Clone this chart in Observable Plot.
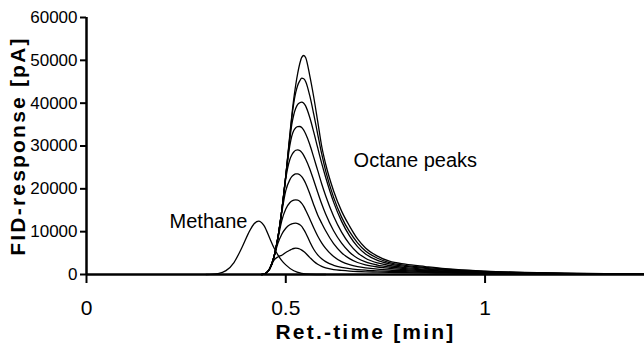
<!DOCTYPE html>
<html><head><meta charset="utf-8">
<script src="https://cdn.jsdelivr.net/npm/d3@7"></script>
<script src="https://cdn.jsdelivr.net/npm/@observablehq/plot@0.6"></script>
<style>body{margin:0;background:#fff} #chart svg{display:block}</style>
</head><body><div id="chart"></div>
<script>
// Shared retention-time grid (min) for the octane peaks
const timeGrid = [0.44,0.45,0.46,0.47,0.48,0.49,0.50,0.51,0.515,0.52,0.525,0.53,0.535,0.54,0.545,0.55,0.56,0.57,0.58,0.59,0.60,0.62,0.64,0.66,0.68,0.70,0.73,0.76,0.80,0.85,0.90,1.00,1.10,1.20,1.30,1.40];
// FID response (pA) of the nine octane peaks, smallest to largest
const octane1 = [0,300,1300,3300,4100,4500,5150,5650,5900,6070,6140,6090,5950,5700,5350,4950,4000,3100,2400,1900,1550,1150,950,800,700,630,560,500,440,370,300,200,120,70,35,15];
const octane2 = [0,300,1400,3900,7200,9400,10800,11600,11820,11940,11980,11900,11650,11250,10500,9700,7700,5900,4600,3700,3000,2150,1650,1350,1150,1000,850,740,640,520,420,280,170,100,50,20];
const octane3 = [0,300,1400,4000,8200,12600,15300,16750,17150,17350,17440,17380,17100,16600,15900,15000,13000,10900,9000,7400,6100,4200,3000,2300,1850,1550,1250,1050,870,700,560,360,220,130,60,25];
const octane4 = [0,300,1400,4000,8400,14500,19600,22100,22850,23250,23470,23510,23300,22850,22150,21250,18900,16300,13900,12000,10200,7200,5100,3700,2800,2250,1750,1450,1150,900,700,450,270,150,70,30];
const octane5 = [0,300,1400,4000,8500,14900,22400,26800,27900,28600,29000,29110,28950,28500,27800,26900,24700,22000,19200,16500,14100,10200,7300,5200,3800,2950,2200,1750,1350,1050,800,500,300,170,80,30];
const octane6 = [0,300,1400,4000,8500,15000,23000,30000,32300,33600,34250,34500,34550,34300,33700,32800,30400,27400,24300,21200,18400,13600,9900,7100,5100,3800,2700,2100,1600,1250,950,580,340,200,90,35];
const octane7 = [0,300,1400,4000,8500,15000,23000,31500,35000,37300,38800,39700,40100,40230,40000,39300,36700,33300,29600,26000,22700,16900,12400,9000,6500,4800,3300,2500,1900,1450,1100,650,380,240,120,50];
const octane8 = [0,300,1400,4000,8500,15000,23000,32000,36500,40000,42500,44200,45200,45830,45700,45000,41800,37500,32800,28200,24200,18000,13400,10000,7400,5500,3800,2800,2150,1650,1230,720,430,280,150,70];
const octane9 = [0,300,1400,4000,8500,15000,23000,32500,37000,41000,44300,47000,49200,50700,51130,50600,46500,41500,35800,30000,25800,19500,14800,11300,8300,6200,4300,3100,2400,1850,1350,780,480,320,180,90];
// Methane peak
const methaneTime = [0.30,0.33,0.35,0.37,0.39,0.41,0.42,0.432,0.445,0.46,0.47,0.48,0.49,0.50,0.52,0.54,0.56,0.60];
const methaneResponse = [0,220,900,2800,6300,10300,11800,12450,11450,8400,6300,4600,3250,2250,870,260,60,0];
// Axis ticks
const xTicks = [0, 0.5, 1];
const yTicks = [0, 10000, 20000, 30000, 40000, 50000, 60000];
// Annotations
const noteText = ["Methane", "Octane peaks"];
const noteTime = [0.306, 0.825];
const noteResponse = [12400, 26600];

const octaneSeries = [octane1, octane2, octane3, octane4, octane5, octane6, octane7, octane8, octane9];
const rows = [];
octaneSeries.forEach((s, i) => s.forEach((v, j) => rows.push({series: "Octane " + (i + 1), time: timeGrid[j], response: v})));
methaneTime.forEach((t, j) => rows.push({series: "Methane", time: t, response: methaneResponse[j]}));
const notes = noteText.map((t, i) => ({text: t, time: noteTime[i], response: noteResponse[i]}));

const chart = Plot.plot({
  width: 644, height: 347,
  marginLeft: 86, marginRight: 0, marginTop: 17, marginBottom: 73,
  x: {domain: [0, 1.4]},
  y: {domain: [0, 60000]},
  style: {fontFamily: "'Liberation Sans', Arial, sans-serif", color: "black", background: "white"},
  marks: [
    Plot.line(rows, {x: "time", y: "response", z: "series", curve: "monotone-x", stroke: "black", strokeWidth: 1.3}),
    Plot.axisY(yTicks, {tickSize: 6, tickPadding: 3, fontSize: 17, strokeWidth: 2, tickFormat: d3.format("d"), label: null}),
    Plot.axisX(xTicks, {tickSize: 9, tickPadding: 17, fontSize: 21, strokeWidth: 2, tickFormat: d => String(d), label: null}),
    Plot.ruleX([0], {y1: 0, y2: 60000, strokeWidth: 2.5}),
    Plot.ruleY([0], {strokeWidth: 2.5}),
    Plot.text(notes, {x: "time", y: "response", text: "text", fontSize: 20}),
    Plot.text(["FID-response [pA]"], {frameAnchor: "left", textAnchor: "middle", lineAnchor: "middle", rotate: -90, dx: -68, fontSize: 21, fontWeight: "bold"}),
    Plot.text(["Ret.-time [min]"], {frameAnchor: "bottom", textAnchor: "middle", lineAnchor: "middle", dy: 58, fontSize: 21, fontWeight: "bold"})
  ]
});
d3.select(chart).selectAll("text")
  .filter(function() { return this.textContent === "FID-response [pA]" || this.textContent === "Ret.-time [min]"; })
  .attr("letter-spacing", "2.2px");
document.getElementById("chart").appendChild(chart);
</script>
</body></html>
